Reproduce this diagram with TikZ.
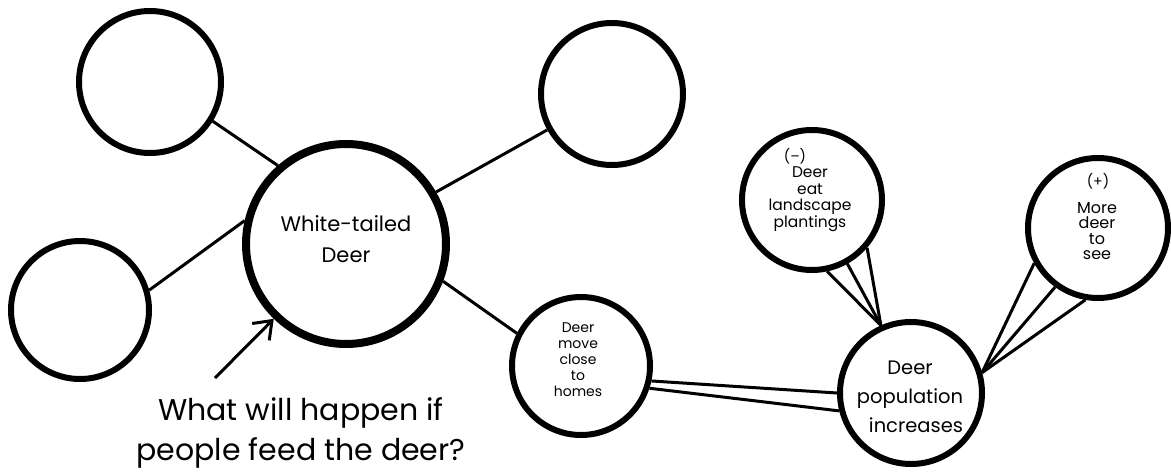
\documentclass[tikz,border=0pt]{standalone}
\usepackage{fontspec}
\setmainfont{Poppins}
\usetikzlibrary{arrows.meta}
\begin{document}
\begin{tikzpicture}[x=1pt,y=-1pt,
  bubble/.style={circle,draw,line width=6pt,inner sep=0pt,fill=white},
  link/.style={line width=3pt},
  txt/.style={align=center,inner sep=0pt}]
\useasboundingbox[fill=white] (0,0) rectangle (1171,474);
% circles
\node[bubble,minimum size=142pt] (tl) at (150,82) {};
\node[bubble,minimum size=138pt] (l) at (80,310) {};
\node[bubble,line width=8pt,minimum size=200pt] (deer) at (346,244) {};
\node[bubble,minimum size=142pt] (tr) at (612,94) {};
\node[bubble,minimum size=138pt] (move) at (581,366) {};
\node[bubble,minimum size=140pt] (eat) at (812,200) {};
\node[bubble,minimum size=140pt] (see) at (1098,228) {};
\node[bubble,minimum size=142pt] (pop) at (911,393) {};
% texts
\node[txt,font=\fontsize{21}{31}\selectfont] (tdeer) at (346,239) {White-tailed\\Deer};
\node[txt,font=\fontsize{14}{16}\selectfont] (tmove) at (578,360) {Deer\\move\\close\\to\\homes};
\node[txt,font=\fontsize{14}{16}\selectfont] (tminus) at (795,156) {(–)};
\node[txt,font=\fontsize{15.5}{16.5}\selectfont] (teat) at (810,199) {Deer\\eat\\landscape\\plantings};
\node[txt,font=\fontsize{14}{16}\selectfont] (tplus) at (1098,181) {(+)};
\node[txt,font=\fontsize{16}{15.5}\selectfont] (tsee) at (1097,231) {More\\deer\\to\\see};
\node[txt,font=\fontsize{19.5}{29}\selectfont] (tpop) at (910,397) {Deer\\population\\\hspace*{12pt}increases};
\node[txt,font=\fontsize{30}{40}\selectfont] (q) at (301,433) {What will happen if\\people feed the deer?};
% connectors
\draw[link] (tl.-32) -- (deer.131);
\draw[link] (l.16) -- (deer.167);
\draw[link] (tr.209) -- (deer.30);
\draw[link] (deer.-21.5) -- (move.153);
\draw[link] (move.-12.5) -- (pop.180);
\draw[link] (move.-18.7) -- (pop.194);
\draw[link] (pop.114) -- (eat.-78);
\draw[link] (pop.114) -- (eat.-61);
\draw[link] (pop.114) -- (eat.-41);
\draw[link] (pop.16) -- (see.209.5);
\draw[link] (pop.16) -- (see.234);
\draw[link] (pop.16) -- (see.260);
\coordinate (astart) at (215,378);
\draw[link,-{Straight Barb[length=16pt,width=24pt,line width=3pt]}] (astart) -- (deer.226);
\end{tikzpicture}
\end{document}
